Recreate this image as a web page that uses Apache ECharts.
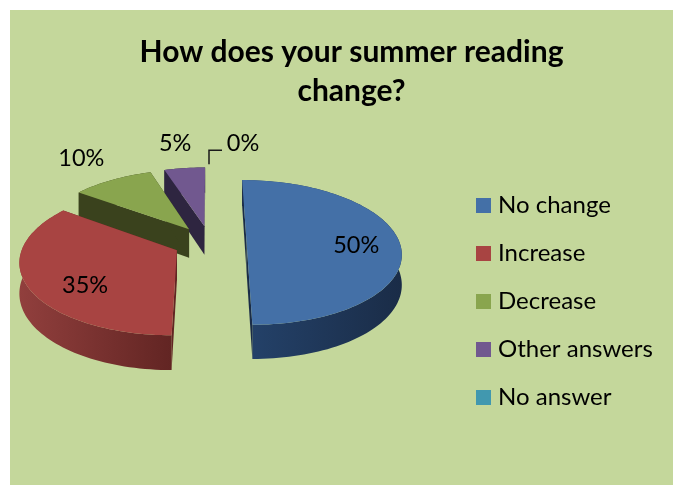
<!DOCTYPE html>
<html>
<head>
<meta charset="utf-8">
<title>How does your summer reading change?</title>
<script src="https://cdn.jsdelivr.net/npm/echarts@6/dist/echarts.min.js"></script>
<style>
  html, body { margin: 0; padding: 0; background: #fff; }
  #main { width: 673px; height: 485px; }
</style>
</head>
<body>
<div id="main"></div>
<script>
var categories = ['No change', 'Increase', 'Decrease', 'Other answers', 'No answer'];
var shares = [50, 35, 10, 5, 0];

// top face, wall left, wall right
var topColors = ['#4470a7', '#a84442', '#89a54e', '#71588f', '#4198af'];
var wallLeft = ['#24426a', '#913f3d', '#3a421d', '#2e2540', '#2f6f80'];
var wallRight = ['#1a2c47', '#622523', '#3a421d', '#2e2540', '#2f6f80'];

// radial position of each label (in pie radii) and a nudge in px
var labelFrac = [0.71, 0.7, 1.2, 1.2, 1.2];
var labelNudge = [[1, 3], [11, 11], [-17, -13], [-6, -15], [33, -14]];

var FONT = 'Lato, "Noto Sans", sans-serif';

// fake 3D: projection of the pie plane
var CX = 210, CY = 242.5, RX = 153, RY = 71, PERSP = 0.137, DEPTH = 29.5, EXPLODE = 0.239;

function project(u, v) {
    var s = 1 / (1 + PERSP * v);
    return { x: CX + RX * u * s, y: CY - RY * v * s, s: s };
}

var total = shares.reduce(function (a, b) { return a + b; }, 0);

function sliceAngles(i) {
    var before = 0;
    for (var k = 0; k < i; k++) before += shares[k];
    var a0 = before / total * Math.PI * 2;
    var a1 = (before + shares[i]) / total * Math.PI * 2;
    return { a0: a0, a1: a1, mid: (a0 + a1) / 2 };
}

function renderSlice(i) {
    var ang = sliceAngles(i);
    var ou = EXPLODE * Math.sin(ang.mid), ov = EXPLODE * Math.cos(ang.mid);
    var at = function (t, r) { return project(ou + r * Math.sin(t), ov + r * Math.cos(t)); };
    var low = function (p) { return [p.x, p.y + DEPTH * p.s]; };
    var up = function (p) { return [p.x, p.y]; };
    var children = [];

    if (shares[i] > 0) {
        var rim = [];
        var steps = Math.ceil((ang.a1 - ang.a0) / 0.03);
        for (var n = 0; n <= steps; n++) {
            rim.push(at(ang.a0 + (ang.a1 - ang.a0) * n / steps, 1));
        }
        var apex = at(0, 0);
        var first = rim[0], last = rim[rim.length - 1];

        // outer wall
        children.push({
            type: 'polygon',
            shape: { points: rim.map(up).concat(rim.slice().reverse().map(low)) },
            style: {
                fill: new echarts.graphic.LinearGradient(0, 0, 1, 0, [
                    { offset: 0, color: i === 0 ? wallRight[i] : wallLeft[i] },
                    { offset: i === 0 ? 0.02 : 0, color: wallLeft[i] },
                    { offset: 1, color: wallRight[i] }
                ])
            }
        });
        // the two cut faces
        [first, last].forEach(function (p) {
            children.push({
                type: 'polygon',
                shape: { points: [up(apex), up(p), low(p), low(apex)] },
                style: { fill: wallRight[i] }
            });
        });
        // top face
        children.push({
            type: 'polygon',
            shape: { points: [up(apex)].concat(rim.map(up)) },
            style: { fill: topColors[i] }
        });
    }

    // percent label
    var lp = at(ang.mid, labelFrac[i]);
    var lx = lp.x + labelNudge[i][0], ly = lp.y + labelNudge[i][1];
    children.push({
        type: 'text',
        z2: 10,
        style: {
            text: shares[i] + '%',
            x: lx, y: ly,
            align: 'center', verticalAlign: 'middle',
            font: '23.5px ' + FONT,
            fill: '#000'
        }
    });

    // small leader for the empty slice
    if (shares[i] === 0) {
        var tip = at(ang.mid, 1);
        children.push({
            type: 'polyline',
            shape: { points: [[tip.x - 1, tip.y - 3], [tip.x - 1, ly + 7], [lx - 21, ly + 7]] },
            style: { stroke: '#1a1a1a', lineWidth: 1.5, fill: null }
        });
    }
    return { type: 'group', children: children };
}

var myChart = echarts.init(document.getElementById('main'));

var option = {
    animation: false,
    backgroundColor: '#fff',
    title: {
        text: 'How does your summer reading\nchange?',
        left: 346.5,
        top: 28,
        textAlign: 'center',
        textStyle: {
            fontFamily: FONT,
            fontSize: 30,
            fontWeight: 'bold',
            lineHeight: 39,
            color: '#000'
        }
    },
    legend: {
        orient: 'vertical',
        left: 476,
        top: 192,
        padding: 0,
        icon: 'rect',
        itemWidth: 15,
        itemHeight: 15,
        itemGap: 21,
        selectedMode: false,
        textStyle: {
            fontFamily: FONT,
            fontSize: 24,
            lineHeight: 27,
            color: '#000',
            padding: [0, 0, 0, 2]
        },
        data: categories
    },
    graphic: {
        elements: [{
            type: 'rect',
            z: -10,
            shape: { x: 10, y: 10, width: 663, height: 475 },
            style: { fill: '#c4d79b' }
        }]
    },
    series: categories.map(function (name, i) {
        return {
            name: name,
            type: 'custom',
            coordinateSystem: 'none',
            z: 10 - i,
            silent: true,
            itemStyle: { color: topColors[i] },
            data: [shares[i]],
            renderItem: function () { return renderSlice(i); }
        };
    })
};

myChart.setOption(option);
window.addEventListener('resize', function () {
    myChart.resize();
});
</script>
</body>
</html>
